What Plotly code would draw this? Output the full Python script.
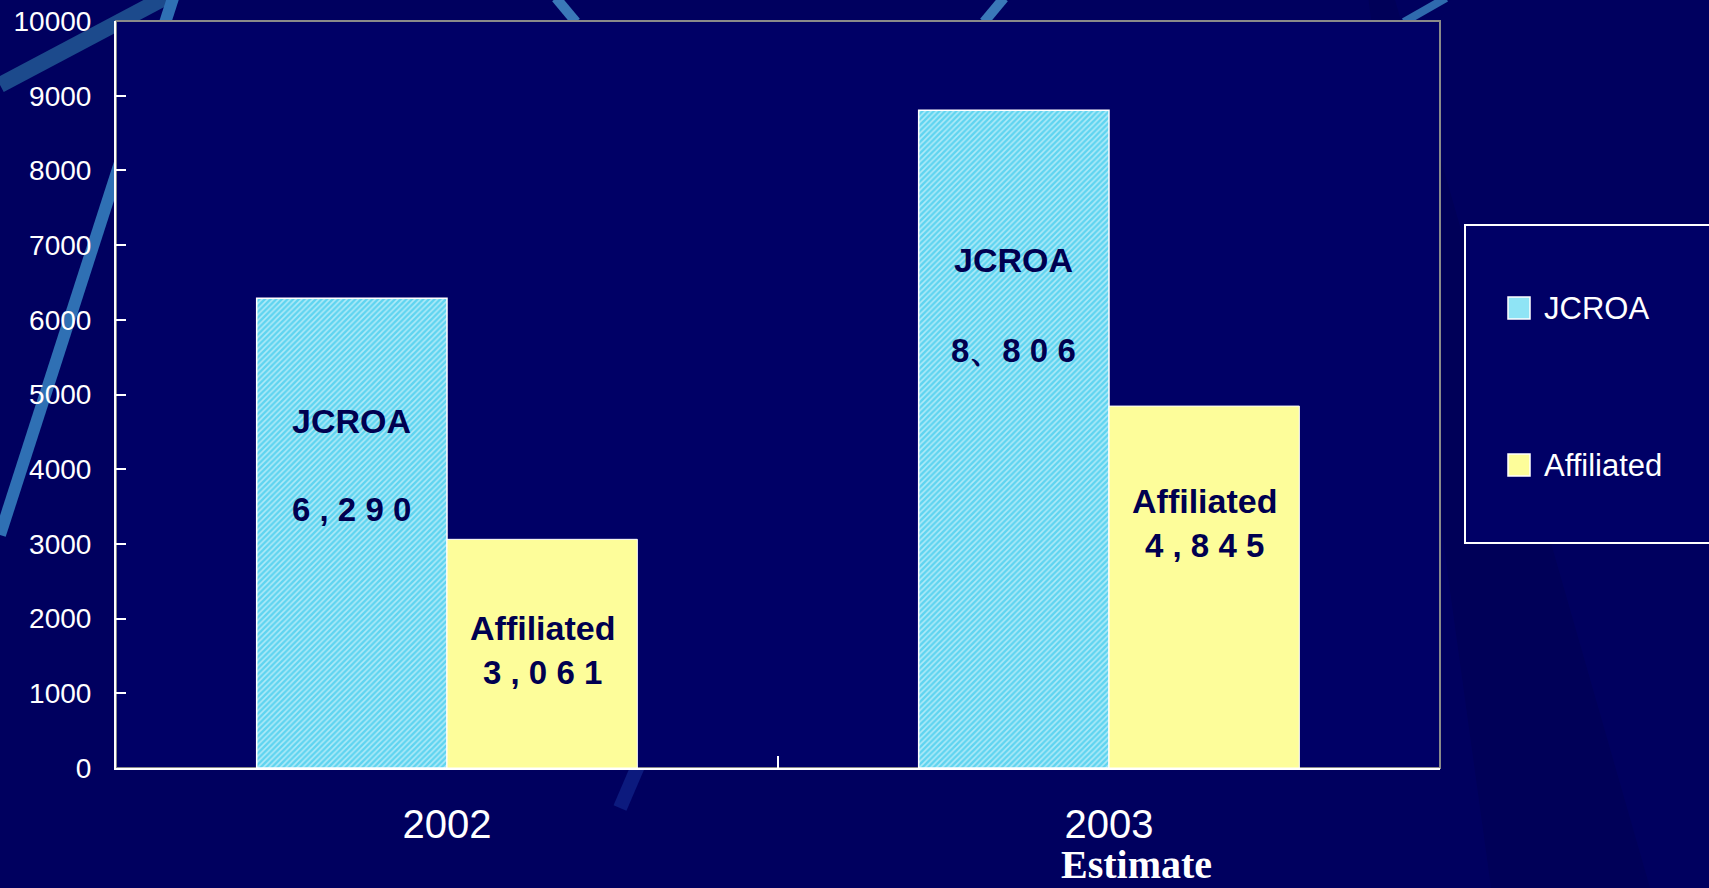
import plotly.graph_objects as go

# data
years = ["2002", "2003"]
jcroa = [6290, 8806]
affiliated = [3061, 4845]
jcroa_labels = ["6 , 2 9 0", "8、8 0 6"]
affiliated_labels = ["3 , 0 6 1", "4 , 8 4 5"]
y_ticks = list(range(0, 10001, 1000))

W, H = 1709, 888
L, R, T, B = 116, 269, 21, 120
BG = "#000066"
INK = "#000050"
CYAN = "#5fd4f0"
YELLOW = "#fdfd9a"
SANS = "Liberation Sans, Arial"


def px(X, Y):
    # pixel -> paper coords for decoration shapes
    return (X - L) / (W - L - R), (H - B - Y) / (H - B - T)


def streak(x0, y0, x1, y1, color, width):
    a, b = px(x0, y0)
    c, d = px(x1, y1)
    return dict(type="line", xref="paper", yref="paper", x0=a, y0=b, x1=c, y1=d,
                line=dict(color=color, width=width), layer="below")


fig = go.Figure()
fig.add_trace(go.Bar(
    x=years, y=jcroa, name="JCROA",
    marker=dict(color=CYAN, line=dict(color="white", width=1.5),
                pattern=dict(shape="/", fgcolor="white", bgcolor=CYAN, size=4, solidity=0.4)),
))
fig.add_trace(go.Bar(
    x=years, y=affiliated, name="Affiliated",
    marker=dict(color=YELLOW, line=dict(color="white", width=1)),
))

bargap = 0.425
half = (1 - bargap) / 4  # offset of each bar centre from the category centre

# faint darker wedge on the right of the slide background
wa = px(1395, 0)
wb = px(1650, 888)
shapes = [
    dict(type="path", xref="paper", yref="paper", layer="below", line=dict(width=0),
         fillcolor="#000058",
         path=f"M{wa[0]},{wa[1]} L{wb[0]},{wb[1]} L{wb[0] - 0.12},{wb[1]} L{wa[0] - 0.02},{wa[1]} Z"),
    streak(0, 85, 170, -5, "#1c4a8c", 16),
    streak(0, 535, 174, -5, "#2f70b4", 12),
    streak(556, -2, 576, 22, "#3a78b8", 10),
    streak(984, 22, 1004, -2, "#3a78b8", 10),
    streak(1404, 22, 1446, -2, "#2f6aae", 8),
    streak(638, 766, 620, 808, "#0c1a7e", 14),
]
# plot background and thin grey frame
shapes.append(dict(type="rect", xref="paper", yref="paper", x0=0, y0=0, x1=1, y1=1,
                   fillcolor=BG, line=dict(width=0), layer="below"))
shapes.append(dict(type="rect", xref="paper", yref="paper", x0=0, y0=0, x1=1, y1=1,
                   line=dict(color="#8a8a8a", width=2), layer="below"))

# legend drawn by hand (big squares, box runs off the slide)
lx0, ly0 = px(1465, 225)
lx1, ly1 = px(1725, 543)
shapes.append(dict(type="rect", xref="paper", yref="paper", x0=lx0, y0=ly1, x1=lx1, y1=ly0,
                   line=dict(color="white", width=2), fillcolor=BG))
annotations = []
for name, col, yc in [("JCROA", "#8fe4f5", 308), ("Affiliated", YELLOW, 465)]:
    a, b = px(1508, yc - 11)
    c, d = px(1530, yc + 11)
    shapes.append(dict(type="rect", xref="paper", yref="paper", x0=a, y0=d, x1=c, y1=b,
                       fillcolor=col, line=dict(color="white", width=1.5)))
    tx, ty = px(1542, yc)
    annotations.append(dict(text=name, xref="paper", yref="paper", x=tx, y=ty,
                            xanchor="left", yanchor="middle", showarrow=False,
                            font=dict(family=SANS, size=31, color="white")))

# text inside the bars
name_y = {"JCROA": [4643, 6798], "Affiliated": [1873, 3573]}
num_y = {"JCROA": [3466, 5594], "Affiliated": [1285, 2984]}
for i in range(len(years)):
    for name, sign, labels in [("JCROA", -1, jcroa_labels), ("Affiliated", 1, affiliated_labels)]:
        xc = i + sign * half
        annotations.append(dict(text=name, x=xc, y=name_y[name][i], xref="x", yref="y",
                                showarrow=False, xanchor="center", yanchor="middle",
                                font=dict(family=SANS, size=34, color=INK, weight="bold")))
        annotations.append(dict(text=labels[i], x=xc, y=num_y[name][i], xref="x", yref="y",
                                showarrow=False, xanchor="center", yanchor="middle",
                                font=dict(family=SANS, size=33, color=INK, weight="bold")))

ex, ey = px(1136, 864)
annotations.append(dict(text="<b>Estimate</b>", xref="paper", yref="paper", x=ex, y=ey,
                        showarrow=False, xanchor="center", yanchor="middle",
                        font=dict(family="Liberation Serif, Times New Roman", size=40, color="white")))

fig.update_layout(
    width=W, height=H,
    margin=dict(l=L, r=R, t=T, b=B),
    paper_bgcolor="#00005f",
    plot_bgcolor="rgba(0,0,0,0)",
    barmode="group", bargap=bargap, bargroupgap=0,
    showlegend=False,
    shapes=shapes,
    annotations=annotations,
    xaxis=dict(type="category", showline=True, linecolor="white", linewidth=2,
               ticks="inside", tickson="boundaries", ticklen=12, tickcolor="white", tickwidth=2,
               tickfont=dict(family=SANS, size=40, color="white"),
               ticklabelstandoff=20, showgrid=False, automargin=False),
    yaxis=dict(range=[0, 10000], tickvals=y_ticks, tickformat="d",
               showline=True, linecolor="white", linewidth=2,
               ticks="inside", ticklen=10, tickcolor="white", tickwidth=2,
               tickfont=dict(family=SANS, size=28, color="white"),
               ticklabelstandoff=17, showgrid=False, zeroline=False, automargin=False),
)

# the slide fills the whole window, so drop the page's default body margin
fig.write_html("out.html", config={"displayModeBar": False},
               post_script="document.body.style.margin='0';")
